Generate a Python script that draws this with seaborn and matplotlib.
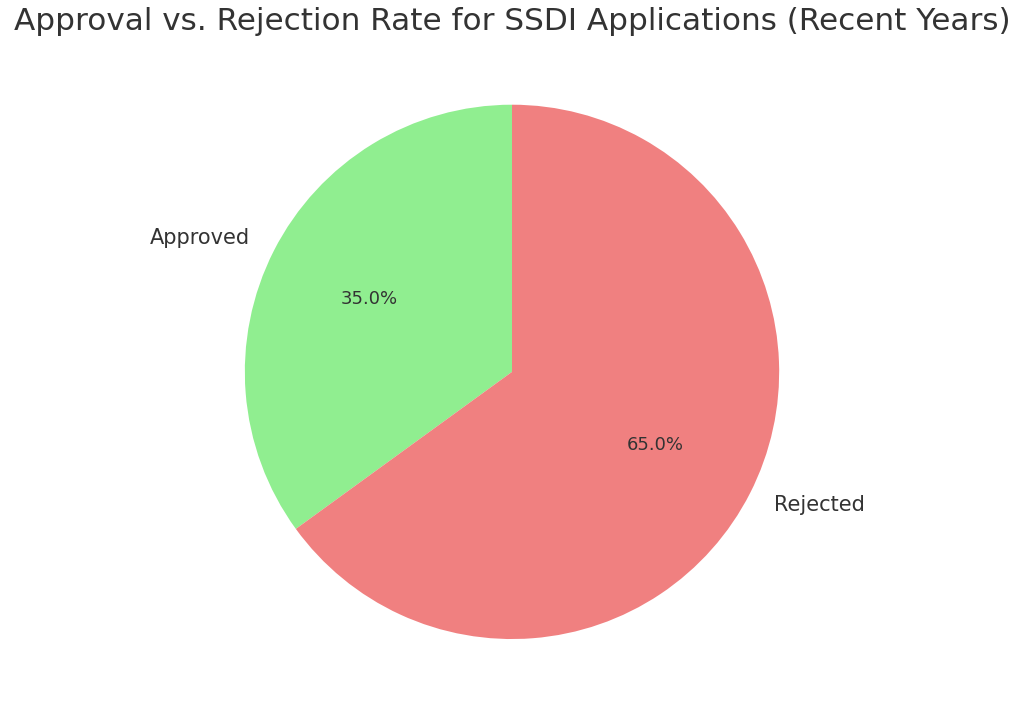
import matplotlib
matplotlib.use("Agg")
import matplotlib.pyplot as plt
import seaborn as sns

sns.set_theme(style="white")
plt.rcParams["text.color"] = "#333333"

labels = ["Approved", "Rejected"]
rates = [35, 65]
colors = ["lightgreen", "lightcoral"]

fig, ax = plt.subplots(figsize=(10.24, 7.09), dpi=100)
wedges, texts, autotexts = ax.pie(rates, labels=labels, colors=colors, autopct="%1.1f%%",
                                  startangle=90, wedgeprops={"linewidth": 0},
                                  textprops={"fontsize": 15, "color": "#333333"})
for t in autotexts:
    t.set_fontsize(13)
ax.axis("equal")
plt.subplots_adjust(left=0.02, right=0.98, top=0.89, bottom=0.061)
fig.suptitle("Approval vs. Rejection Rate for SSDI Applications (Recent Years)",
             fontsize=22.4, color="#333333", y=0.99, va="top")
fig.savefig("out.png", dpi=100)
